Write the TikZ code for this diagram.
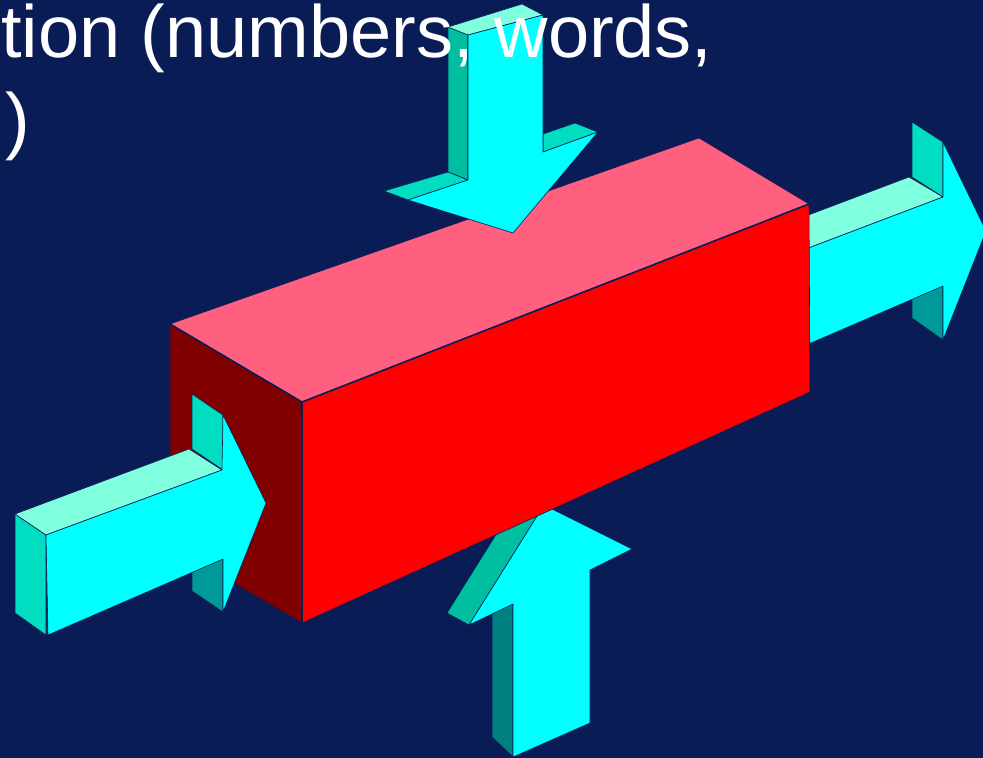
\documentclass[tikz,border=0pt]{standalone}
\usepackage{fontspec}
\setmainfont{Liberation Sans}
\definecolor{bg}{RGB}{10,28,86}
\definecolor{cyanf}{RGB}{0,255,255}
\definecolor{lighttop}{RGB}{128,255,222}
\definecolor{flap}{RGB}{0,221,192}
\definecolor{sideA}{RGB}{0,190,160}
\definecolor{darkflap}{RGB}{0,153,153}
\definecolor{darkside}{RGB}{0,128,128}
\definecolor{boxtop}{RGB}{255,96,128}
\definecolor{boxleft}{RGB}{128,0,0}
\definecolor{boxfront}{RGB}{255,0,0}
\tikzset{
  face/.style={fill=#1, draw=bg, line width=0.6pt, line join=round},
  edgeline/.style={draw=bg, line width=1.6pt},
  slidetext/.style={anchor=base west, inner sep=0pt, text=white, font=\fontsize{74}{86}\selectfont}
}
\begin{document}
\begin{tikzpicture}[x=1pt,y=-1pt]
\useasboundingbox (0,0) rectangle (983,758);
\clip (0,0) rectangle (983,758);
\fill[bg] (0,0) rectangle (983,758);

% right arrow (behind box)
\path[face=lighttop] (790,222) -- (909,177) -- (943,197) -- (790,255) -- cycle;
\path[face=flap] (912,122) -- (943,142) -- (943,197) -- (912,177) -- cycle;
\path[face=darkflap] (912,280) -- (943,286) -- (943,340) -- (912,318) -- cycle;
\path[face=cyanf] (790,255) -- (943,197) -- (943,142) -- (986,231) -- (943,340) -- (943,286) -- (790,352) -- cycle;

% up arrow (behind box)
\path[face=darkside] (492,600) -- (513,592) -- (513,757) -- (492,737) -- cycle;
\path[face=sideA] (447,613) -- (469,625) -- (544,505) -- (522,493) -- cycle;
\path[face=cyanf] (513,757) -- (590,723) -- (590,570) -- (632,549) -- (544,505) -- (469,625) -- (513,604) -- cycle;

% box
\path[face=boxleft] (170,324) -- (302,402) -- (302,623) -- (170,546) -- cycle;
\path[face=boxtop] (170,324) -- (699,138) -- (809,204) -- (302,402) -- cycle;
\path[face=boxfront] (302,402) -- (809,204) -- (810,392) -- (302,623) -- cycle;
\draw[edgeline] (170,324) -- (302,402) -- (809,204);
\draw[edgeline] (302,402) -- (302,623);

% left arrow (in front of box)
\path[face=flap] (15,514) -- (46,535) -- (46,635) -- (15,613) -- cycle;
\path[face=lighttop] (15,514) -- (189,449) -- (222,470) -- (46,535) -- cycle;
\path[face=flap] (192,394) -- (223,415) -- (223,470) -- (192,449) -- cycle;
\path[face=darkflap] (192,550) -- (223,559) -- (223,612) -- (192,591) -- cycle;
\path[face=cyanf] (46,535) -- (222,470) -- (223,415) -- (266,503) -- (223,612) -- (223,559) -- (48,635) -- cycle;

% down arrow (in front of box)
\path[face=sideA] (448,27) -- (468,35) -- (468,180) -- (448,172) -- cycle;
\path[face=lighttop] (448,27) -- (522,4) -- (543,15) -- (468,35) -- cycle;
\path[face=flap] (543,134) -- (575,123) -- (598,132) -- (543,152) -- cycle;
\path[face=flap] (384,191) -- (448,172) -- (468,180) -- (408,200) -- cycle;
\path[face=cyanf] (468,35) -- (543,15) -- (543,152) -- (598,132) -- (513,233) -- (408,200) -- (468,180) -- cycle;

% text
\node[slidetext] (line1) at (1,57) {tion (numbers, words,};
\node[slidetext] (line2) at (5,145) {)};
\end{tikzpicture}
\end{document}
